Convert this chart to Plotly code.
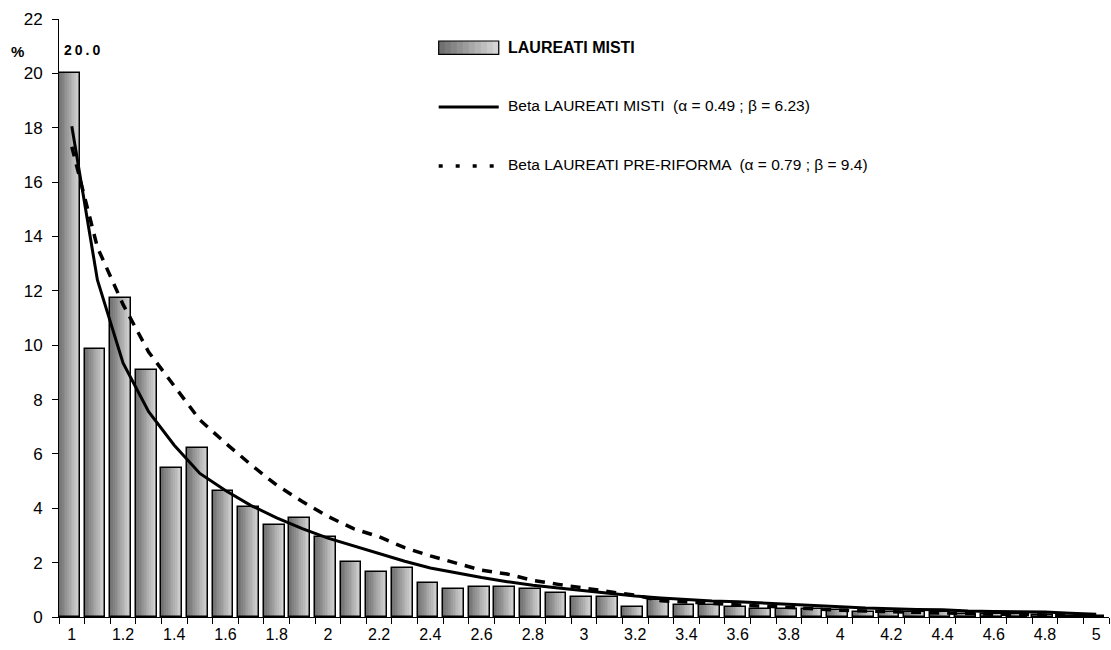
import plotly.graph_objects as go

# ---------------- data ----------------
categories = ["1", "1.1", "1.2", "1.3", "1.4", "1.5", "1.6", "1.7", "1.8", "1.9",
              "2", "2.1", "2.2", "2.3", "2.4", "2.5", "2.6", "2.7", "2.8", "2.9",
              "3", "3.1", "3.2", "3.3", "3.4", "3.5", "3.6", "3.7", "3.8", "3.9",
              "4", "4.1", "4.2", "4.3", "4.4", "4.5", "4.6", "4.7", "4.8", "4.9", "5"]

laureati_misti = [20.0, 9.85, 11.73, 9.1, 5.47, 6.21, 4.64, 4.04, 3.37, 3.66,
                  2.93, 2.02, 1.64, 1.80, 1.26, 1.04, 1.12, 1.12, 1.04, 0.88,
                  0.74, 0.72, 0.38, 0.64, 0.46, 0.44, 0.38, 0.30, 0.29, 0.28,
                  0.25, 0.20, 0.17, 0.18, 0.17, 0.12, 0.10, 0.10, 0.08, 0.05, 0.05]

beta_misti = [18.05, 12.4, 9.35, 7.55, 6.32, 5.28, 4.65, 4.1, 3.65, 3.25,
              2.9, 2.62, 2.35, 2.05, 1.8, 1.62, 1.45, 1.3, 1.17, 1.07,
              0.97, 0.85, 0.77, 0.7, 0.64, 0.59, 0.56, 0.52, 0.47, 0.43,
              0.38, 0.33, 0.30, 0.28, 0.27, 0.22, 0.20, 0.19, 0.18, 0.14, 0.10]

beta_pre_riforma = [17.3, 13.6, 11.5, 9.75, 8.5, 7.25, 6.4, 5.6, 4.85, 4.25,
                    3.7, 3.25, 2.95, 2.55, 2.25, 2.0, 1.72, 1.58, 1.35, 1.2,
                    1.05, 0.93, 0.8, 0.6, 0.55, 0.5, 0.45, 0.4, 0.33, 0.28,
                    0.25, 0.22, 0.19, 0.16, 0.14, 0.12, 0.10, 0.09, 0.07, 0.05, 0.04]

tick_labels = ["1", "", "1.2", "", "1.4", "", "1.6", "", "1.8", "",
               "2", "", "2.2", "", "2.4", "", "2.6", "", "2.8", "",
               "3", "", "3.2", "", "3.4", "", "3.6", "", "3.8", "",
               "4", "", "4.2", "", "4.4", "", "4.6", "", "4.8", "", "5"]

name_bars = "LAUREATI MISTI"
name_solid = "Beta LAUREATI MISTI  (α = 0.49 ; β = 6.23)"
name_dash = "Beta LAUREATI PRE-RIFORMA  (α = 0.79 ; β = 9.4)"

# ---------------- style ----------------
FONT = "Liberation Sans, Arial, sans-serif"
BAR_W = 0.81
N_BANDS = 12
DARK = (112, 112, 112)
LIGHT = (212, 212, 212)


def band_color(i, n):
    t = i / (n - 1)
    c = [round(DARK[k] + (LIGHT[k] - DARK[k]) * t) for k in range(3)]
    return f"rgb({c[0]},{c[1]},{c[2]})"


fig = go.Figure()

# gradient bands for bars
bw = BAR_W / N_BANDS
for i in range(N_BANDS):
    fig.add_trace(go.Bar(
        x=categories, y=laureati_misti,
        width=bw * 1.02, offset=-0.5 + i * bw,
        marker=dict(color=band_color(i, N_BANDS), line=dict(width=0)),
        showlegend=False, hoverinfo="skip"))

# bar outline
fig.add_trace(go.Bar(
    x=categories, y=laureati_misti, name=name_bars,
    width=BAR_W, offset=-0.5,
    marker=dict(color="rgba(0,0,0,0)", line=dict(color="black", width=1.5)),
    showlegend=False))

fig.add_trace(go.Scatter(
    x=categories, y=beta_pre_riforma, name=name_dash, mode="lines",
    line=dict(color="black", width=3.5, dash="10px,8px"), showlegend=False))

fig.add_trace(go.Scatter(
    x=categories, y=beta_misti, name=name_solid, mode="lines",
    line=dict(color="black", width=3), showlegend=False))

# ---------------- manual legend ----------------
shapes = []
lx0, lx1 = 0.3616, 0.4188
ly0, ly1 = 0.941, 0.9632
n_leg = 10
for i in range(n_leg):
    a = lx0 + (lx1 - lx0) * i / n_leg
    b = lx0 + (lx1 - lx0) * (i + 1) / n_leg
    shapes.append(dict(type="rect", xref="paper", yref="paper", x0=a, x1=b + 0.0005,
                       y0=ly0, y1=ly1, fillcolor=band_color(i, n_leg), line=dict(width=0)))
shapes.append(dict(type="rect", xref="paper", yref="paper", x0=lx0, x1=lx1,
                   y0=ly0, y1=ly1, line=dict(color="black", width=1.2)))
shapes.append(dict(type="line", xref="paper", yref="paper", x0=lx0, x1=lx1,
                   y0=0.853, y1=0.853, line=dict(color="black", width=3)))
shapes.append(dict(type="line", xref="paper", yref="paper", x0=lx0, x1=lx1 + 0.002,
                   y0=0.7543, y1=0.7543, line=dict(color="black", width=3.5, dash="4px,13px")))

annotations = [
    dict(text="<b>" + name_bars + "</b>", xref="paper", yref="paper", x=0.4254, y=0.952,
         xanchor="left", yanchor="middle", showarrow=False, font=dict(size=16, color="black", family=FONT)),
    dict(text=name_solid, xref="paper", yref="paper", x=0.4254, y=0.8558,
         xanchor="left", yanchor="middle", showarrow=False, font=dict(size=15.5, color="black", family=FONT)),
    dict(text=name_dash, xref="paper", yref="paper", x=0.4254, y=0.7572,
         xanchor="left", yanchor="middle", showarrow=False, font=dict(size=15.5, color="black", family=FONT)),
    dict(text="<b>%</b>", xref="paper", yref="y", x=-0.0393, y=20.8,
         xanchor="center", yanchor="middle", showarrow=False, font=dict(size=15, color="black", family=FONT)),
    dict(text='<b><span style="letter-spacing:3px">%.1f</span></b>' % laureati_misti[0],
         xref="x", yref="y", x=0, y=laureati_misti[0],
         xanchor="left", yanchor="middle", xshift=-10, yshift=23, showarrow=False,
         font=dict(size=14, color="black", family=FONT)),
]

fig.update_layout(
    width=1111, height=650,
    margin=dict(l=59, r=2, t=19, b=33),
    paper_bgcolor="white", plot_bgcolor="white",
    barmode="overlay", bargap=0,
    showlegend=False,
    font=dict(family=FONT, color="black"),
    shapes=shapes, annotations=annotations,
)

fig.update_xaxes(
    type="category", range=[-0.5, len(categories) - 0.5],
    tickmode="array", tickvals=categories, ticktext=tick_labels,
    tickson="boundaries", ticks="outside", ticklen=6, tickcolor="black", tickwidth=1,
    showline=True, linecolor="black", linewidth=1,
    showgrid=False, zeroline=False,
    tickfont=dict(size=16, family=FONT, color="black"), tickangle=0,
    ticklabelstandoff=3,
)
fig.update_yaxes(
    range=[0, 22], dtick=2, tick0=0,
    ticks="outside", ticklen=6, tickcolor="black", tickwidth=1,
    showline=True, linecolor="black", linewidth=1,
    showgrid=False, zeroline=False,
    tickfont=dict(size=17, family=FONT, color="black"),
    ticklabelstandoff=6,
)

fig.write_html("out.html")
